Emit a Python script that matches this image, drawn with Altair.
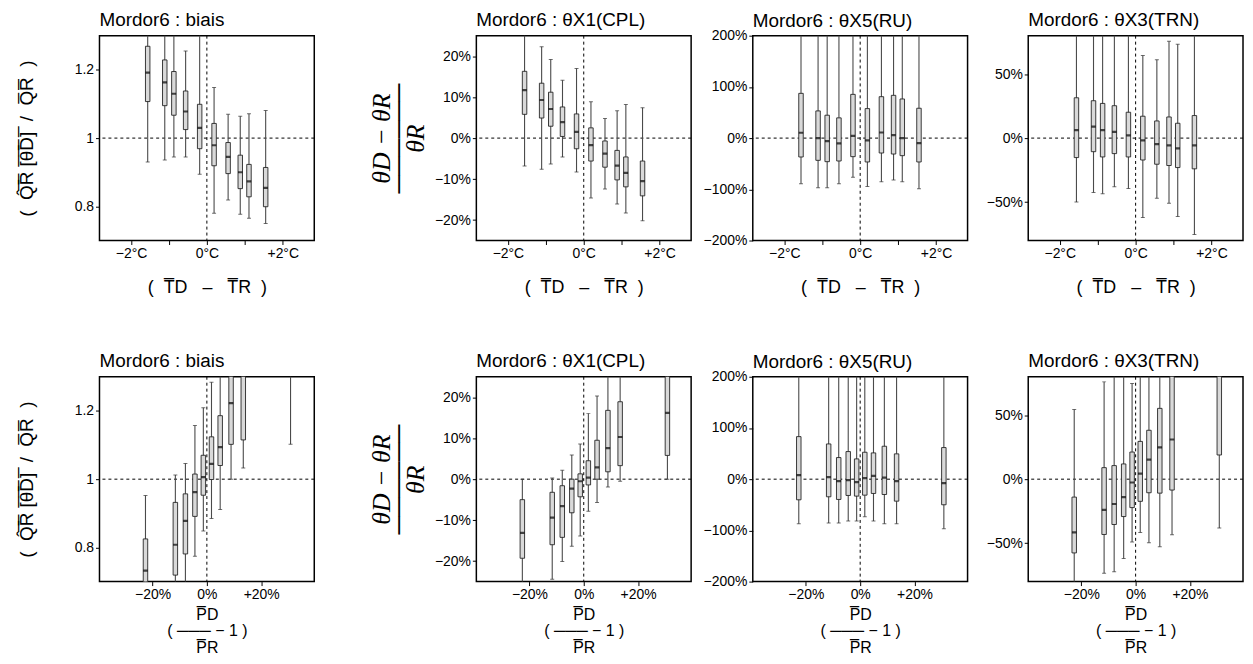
import altair as alt
import pandas as pd

# ---------------- data ----------------
# x positions of the boxes
T_X = [-1.56, -1.11, -0.87, -0.56, -0.19, 0.19, 0.56, 0.88, 1.11, 1.55]          # deg C
P_X = [-0.226, -0.116, -0.079, -0.044, -0.013, 0.017, 0.049, 0.089, 0.134, 0.308]  # fraction

# biais vs temperature
A_LO = [0.930, 0.936, 0.945, 0.945, 0.894, 0.780, 0.819, 0.777, 0.765, 0.750]
A_Q1 = [1.107, 1.095, 1.067, 1.025, 0.969, 0.919, 0.896, 0.852, 0.828, 0.799]
A_MED = [1.192, 1.163, 1.130, 1.078, 1.030, 0.979, 0.945, 0.900, 0.873, 0.854]
A_Q3 = [1.269, 1.229, 1.195, 1.138, 1.099, 1.043, 0.987, 0.950, 0.923, 0.914]
A_HI = [1.400, 1.360, 1.340, 1.255, 1.330, 1.148, 1.070, 1.064, 1.071, 1.081]

# theta X1 vs temperature
B_LO = [-0.068, -0.076, -0.063, -0.046, -0.083, -0.146, -0.124, -0.161, -0.183, -0.202]
B_Q1 = [0.058, 0.049, 0.029, 0.004, -0.026, -0.056, -0.071, -0.102, -0.119, -0.141]
B_MED = [0.117, 0.093, 0.071, 0.039, 0.015, -0.017, -0.038, -0.067, -0.085, -0.105]
B_Q3 = [0.163, 0.134, 0.112, 0.076, 0.059, 0.025, -0.007, -0.030, -0.046, -0.056]
B_HI = [0.280, 0.223, 0.192, 0.141, 0.170, 0.089, 0.048, 0.067, 0.082, 0.074]

# theta X5 vs temperature
C_LO = [-0.893, -0.971, -0.971, -0.893, -0.764, -0.945, -0.854, -0.816, -0.854, -0.990]
C_Q1 = [-0.369, -0.434, -0.460, -0.447, -0.362, -0.466, -0.291, -0.311, -0.343, -0.466]
C_MED = [0.104, 0.000, -0.058, -0.104, 0.045, -0.045, 0.110, 0.058, 0.000, -0.097]
C_Q3 = [0.874, 0.531, 0.447, 0.395, 0.854, 0.576, 0.809, 0.835, 0.764, 0.583]
C_HI = [2.6, 2.3, 2.2, 2.1, 2.5, 2.3, 2.4, 2.5, 2.3, 2.2]

# theta X3 vs temperature
D_LO = [-0.499, -0.424, -0.434, -0.380, -0.393, -0.620, -0.470, -0.509, -0.612, -0.752]
D_Q1 = [-0.152, -0.106, -0.147, -0.121, -0.147, -0.171, -0.204, -0.214, -0.230, -0.240]
D_MED = [0.062, 0.090, 0.062, 0.049, 0.021, -0.018, -0.047, -0.057, -0.080, -0.057]
D_Q3 = [0.315, 0.292, 0.271, 0.253, 0.202, 0.171, 0.134, 0.165, 0.116, 0.176]
D_HI = [0.95, 0.92, 0.90, 0.85, 0.88, 0.646, 0.612, 0.757, 0.734, 0.90]

# biais vs precipitation
E_LO = [0.55, 0.60, 0.65, 0.774, 0.848, 0.885, 0.911, 1.000, 1.033, 1.102]
E_Q1 = [0.64, 0.719, 0.781, 0.891, 0.953, 0.999, 1.040, 1.102, 1.115, 1.35]
E_MED = [0.732, 0.808, 0.878, 0.962, 1.006, 1.045, 1.094, 1.223, 1.32, 1.45]
E_Q3 = [0.825, 0.932, 0.957, 1.015, 1.070, 1.124, 1.186, 1.34, 1.42, 1.6]
E_HI = [0.952, 1.012, 1.046, 1.157, 1.209, 1.284, 1.36, 1.48, 1.6, 1.9]

# theta X1 vs precipitation
F_LO = [-0.280, -0.244, -0.201, -0.164, -0.139, -0.078, -0.057, -0.019, -0.005, 0.000]
F_Q1 = [-0.193, -0.160, -0.142, -0.082, -0.043, -0.014, 0.000, 0.018, 0.033, 0.058]
F_MED = [-0.131, -0.094, -0.066, -0.023, -0.005, 0.004, 0.029, 0.076, 0.103, 0.162]
F_Q3 = [-0.050, -0.032, -0.016, 0.000, 0.013, 0.045, 0.095, 0.168, 0.189, 0.300]
F_HI = [0.000, 0.003, 0.022, 0.059, 0.086, 0.160, 0.203, 0.300, 0.330, 0.450]

# theta X5 vs precipitation
G_LO = [-0.870, -0.857, -0.857, -0.818, -0.818, -0.734, -0.818, -0.870, -0.870, -0.968]
G_Q1 = [-0.403, -0.344, -0.396, -0.318, -0.331, -0.312, -0.279, -0.299, -0.429, -0.500]
G_MED = [0.078, 0.039, -0.039, -0.019, -0.058, 0.019, 0.065, 0.032, -0.039, -0.078]
G_Q3 = [0.831, 0.688, 0.422, 0.539, 0.396, 0.526, 0.513, 0.643, 0.494, 0.617]
G_HI = [2.5, 2.4, 2.3, 2.3, 2.2, 2.4, 2.3, 2.4, 2.5, 2.6]

# theta X3 vs precipitation
H_LO = [-0.82, -0.734, -0.724, -0.620, -0.491, -0.416, -0.496, -0.527, -0.434, -0.382]
H_Q1 = [-0.576, -0.432, -0.354, -0.292, -0.222, -0.173, -0.106, -0.109, -0.085, 0.189]
H_MED = [-0.416, -0.240, -0.194, -0.140, -0.026, 0.044, 0.152, 0.248, 0.310, 0.95]
H_Q3 = [-0.140, 0.090, 0.106, 0.119, 0.212, 0.295, 0.382, 0.553, 0.85, 1.2]
H_HI = [0.545, 0.760, 0.95, 0.90, 0.747, 0.95, 0.98, 1.1, 1.2, 1.6]

TITLES = ["Mordor6 : biais", "Mordor6 : θX1(CPL)", "Mordor6 : θX5(RU)", "Mordor6 : θX3(TRN)"]

# ---------------- styling ----------------
SANS = "Liberation Sans"
SERIF = "Liberation Serif"
NB = "\u00a0"
OV = "\u0305"
W, H = 216, 206

Y_BIAIS_TITLE = ("(" + NB * 2 + "Q\u0302" + OV + "R" + OV + NB + "[" + OV + "θ" + OV + "D" + OV + "]" + OV
                 + NB * 2 + "/" + NB * 2 + "Q" + OV + "R" + OV + NB * 2 + ")")
Y_THETA_TITLE = ["θD − θR", "──────", "θR"]
X_T_TITLE = "(" + NB * 2 + "T" + OV + "D" + NB * 3 + "–" + NB * 3 + "T" + OV + "R" + NB * 2 + ")"
X_P_TITLE = ["P" + OV + "D" + NB * 6,
             "(" + NB + "───" + NB + "−" + NB + "1" + NB + ")",
             "P" + OV + "R" + NB * 6]


def frame(x, lo, q1, med, q3, hi):
    return pd.DataFrame(dict(x=x, lo=lo, q1=q1, med=med, q3=q3, hi=hi))


def x_spec(kind):
    if kind == "T":
        scale = alt.Scale(domain=[-2.7, 2.7], nice=False, zero=False)
        axis = alt.Axis(values=[-2, -1, 0, 1, 2],
                        labelExpr="datum.value == 0 ? '0°C' : datum.value == 2 ? '+2°C' : datum.value == -2 ? '−2°C' : ''",
                        title=X_T_TITLE, titleFont=SANS, titleFontSize=18, titleFontWeight="normal",
                        titlePadding=18)
    else:
        scale = alt.Scale(domain=[-0.377, 0.377], nice=False, zero=False)
        axis = alt.Axis(values=[-0.2, 0, 0.2],
                        labelExpr="datum.value < 0 ? '−20%' : datum.value > 0 ? '+20%' : '0%'",
                        title=X_P_TITLE, titleFont=SANS, titleFontSize=16, titleFontWeight="normal",
                        titleLineHeight=16.5, titlePadding=5)
    return scale, axis


def y_spec(kind):
    if kind == "biais":
        scale = alt.Scale(domain=[0.7, 1.3], nice=False, zero=False)
        axis = alt.Axis(values=[0.8, 1.0, 1.2], format="~g", title=Y_BIAIS_TITLE,
                        titleFont=SANS, titleFontSize=19, titleFontWeight="normal", titlePadding=38)
        return scale, axis, 1.0
    if kind == "X1":
        scale = alt.Scale(domain=[-0.25, 0.25], nice=False, zero=False)
        axis = alt.Axis(values=[-0.2, -0.1, 0, 0.1, 0.2], format=".0%", title=Y_THETA_TITLE,
                        titleFont=SERIF, titleFontSize=26, titleFontStyle="italic", titleFontWeight="normal",
                        titleLineHeight=17, titlePadding=6)
        return scale, axis, 0.0
    if kind == "X5":
        scale = alt.Scale(domain=[-2, 2], nice=False, zero=False)
        axis = alt.Axis(values=[-2, -1, 0, 1, 2], format=".0%", title=None)
        return scale, axis, 0.0
    scale = alt.Scale(domain=[-0.8, 0.8], nice=False, zero=False)
    axis = alt.Axis(values=[-0.5, 0, 0.5], format=".0%", title=None)
    return scale, axis, 0.0


def make_panel(df, title, xkind, ykind):
    xs, xa = x_spec(xkind)
    ys, ya, ref = y_spec(ykind)
    base = alt.Chart(df)
    one = alt.Chart(pd.DataFrame({"r": [0]}))

    def X():
        return alt.X("x:Q", scale=xs, axis=xa)

    def Y(f):
        return alt.Y(f + ":Q", scale=ys, axis=ya)

    href = one.mark_rule(color="black", strokeWidth=1, strokeDash=[3, 3]).encode(
        y=alt.YDatum(ref, scale=ys, axis=ya))
    vref = one.mark_rule(color="black", strokeWidth=1, strokeDash=[3, 3]).encode(
        x=alt.XDatum(0, scale=xs, axis=xa))
    whisk = base.mark_rule(color="#4a4a4a", strokeWidth=1.1, clip=True).encode(
        x=X(), y=Y("lo"), y2="hi")
    cap_lo = base.mark_tick(orient="horizontal", size=4, thickness=1, color="#333333", clip=True).encode(
        x=X(), y=Y("lo"))
    cap_hi = base.mark_tick(orient="horizontal", size=4, thickness=1, color="#333333", clip=True).encode(
        x=X(), y=Y("hi"))
    box = base.mark_bar(width=4.5, color="#d9d9d9", stroke="#262626", strokeWidth=0.9, clip=True).encode(
        x=X(), y=Y("q1"), y2="q3")
    med = base.mark_tick(orient="horizontal", size=4.5, thickness=2.2, color="black", clip=True).encode(
        x=X(), y=Y("med"))
    # the 200% label of the X5 axis pokes above the frame; keep its title at the same height
    off = -2 if ykind == "X5" else 5
    return alt.layer(href, vref, whisk, cap_lo, cap_hi, box, med).properties(
        width=W, height=H,
        title=alt.TitleParams(title, anchor="start", frame="group", font=SANS, fontSize=19,
                              fontWeight="normal", color="black", offset=off))


def row(xkind, x, sets):
    kinds = ["biais", "X1", "X5", "X3"]
    panels = [make_panel(frame(x, *s), t, xkind, k) for s, t, k in zip(sets, TITLES, kinds)]
    inner = alt.hconcat(panels[2], panels[3], spacing=16)
    mid = alt.hconcat(panels[1], inner, spacing=9)
    return alt.hconcat(panels[0], mid, spacing=52)


top = row("T", T_X, [(A_LO, A_Q1, A_MED, A_Q3, A_HI), (B_LO, B_Q1, B_MED, B_Q3, B_HI),
                     (C_LO, C_Q1, C_MED, C_Q3, C_HI), (D_LO, D_Q1, D_MED, D_Q3, D_HI)])
bottom = row("P", P_X, [(E_LO, E_Q1, E_MED, E_Q3, E_HI), (F_LO, F_Q1, F_MED, F_Q3, F_HI),
                        (G_LO, G_Q1, G_MED, G_Q3, G_HI), (H_LO, H_Q1, H_MED, H_Q3, H_HI)])

chart = alt.vconcat(top, bottom, spacing=54).properties(
    padding={"left": 8, "top": 0, "right": 0, "bottom": 0},
    background="white",
).configure_view(
    stroke="black", strokeWidth=1.5
).configure_axis(
    labelFont=SANS, labelFontSize=14, labelColor="black", tickColor="black", tickSize=4,
    tickWidth=1, domain=False, grid=False, labelPadding=2, titleColor="black"
)

chart.save("out.html", embed_options={"renderer": "svg", "actions": False})
